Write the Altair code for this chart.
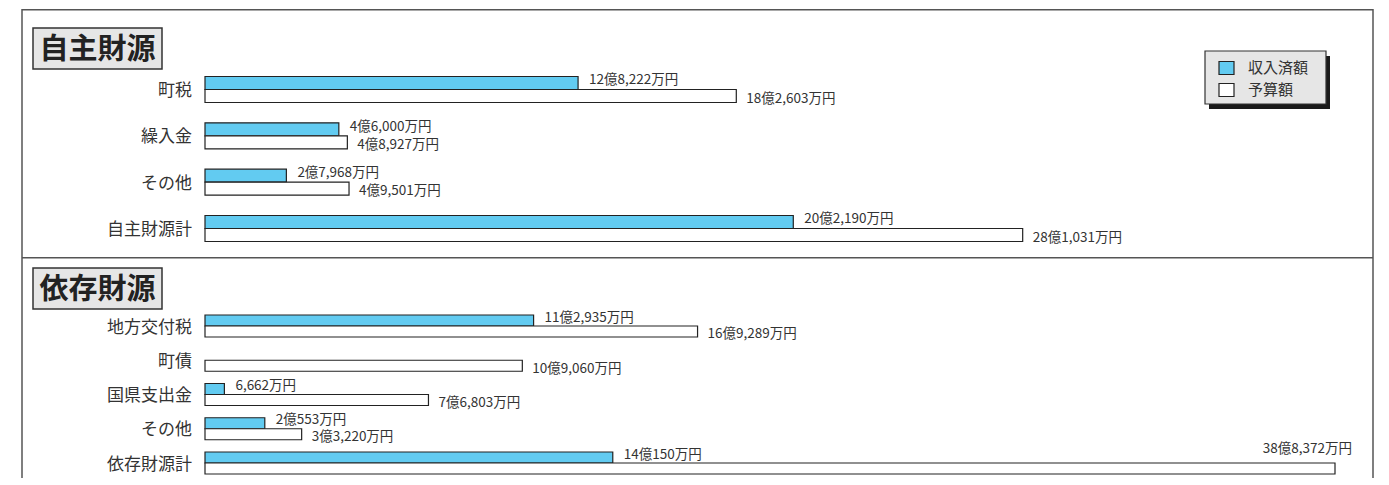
import altair as alt
import pandas as pd

FONT = "Noto Sans CJK JP"

series = ["収入済額", "予算額"]
series_colors = ["#62CBF1", "#FFFFFF"]

own_title = "自主財源"
own_cats = ["町税", "繰入金", "その他", "自主財源計"]
own_received = [128222, 46000, 27968, 202190]
own_budget = [182603, 48927, 49501, 281031]

dep_title = "依存財源"
dep_cats = ["地方交付税", "町債", "国県支出金", "その他", "依存財源計"]
dep_received = [112935, 0, 6662, 20553, 140150]
dep_budget = [169289, 109060, 76803, 33220, 388372]

XMAX = max(own_budget + dep_budget)
W = 1373
VFS = 13.5


def fmt(v):
    oku, man = divmod(v, 10000)
    if oku > 0:
        return f"{oku}億{man:,}万円"
    return f"{man:,}万円"


one = pd.DataFrame({"k": [0]})


def vrule(x, h):
    return alt.Chart(one).mark_rule(color="#555", strokeWidth=1.5).encode(
        x=alt.value(x), y=alt.value(0), y2=alt.value(h))


def hrule(y):
    return alt.Chart(one).mark_rule(color="#555", strokeWidth=1.5).encode(
        x=alt.value(14), x2=alt.value(1365), y=alt.value(y))


def title_box(title, ty):
    box = alt.Chart(one).mark_rect(fill="#e6e6e6", stroke="#333", strokeWidth=1.5).encode(
        x=alt.value(25), x2=alt.value(154), y=alt.value(ty), y2=alt.value(ty + 41))
    txt = alt.Chart(one).mark_text(text=title, font=FONT, fontSize=29, fontWeight="bold",
                                   color="#222", align="center", baseline="middle").encode(
        x=alt.value(89.5), y=alt.value(ty + 21.5))
    return [box, txt]


def panel(cats, rec, bud, title, height, yr, pin, pout, ty, ldy, legend):
    rows = []
    for c, r, b in zip(cats, rec, bud):
        rows.append(dict(cat=c, series=series[0], value=r, label=fmt(r)))
        rows.append(dict(cat=c, series=series[1], value=b, label=fmt(b)))
    df = pd.DataFrame(rows)
    xs = alt.Scale(domain=[0, XMAX], range=[197, 1327])
    ys = alt.Scale(domain=cats, range=yr, paddingInner=pin, paddingOuter=pout)
    yo = alt.Scale(domain=series, paddingInner=0, paddingOuter=0)
    base = alt.Chart(df)
    X = alt.X("value:Q", scale=xs, axis=None)
    Y = alt.Y("cat:N", scale=ys, axis=None)
    YO = alt.YOffset("series:N", scale=yo)
    bars = base.transform_filter("datum.value > 0").mark_bar(
        stroke="#222", strokeWidth=1.2).encode(
        x=X, y=Y, yOffset=YO,
        fill=alt.Fill("series:N", scale=alt.Scale(domain=series, range=series_colors), legend=None))
    lab_rec = base.transform_filter(
        f"datum.value > 0 && datum.value < {XMAX} && datum.series == '{series[0]}'").mark_text(
        align="left", baseline="middle", dx=11, dy=-ldy, fontSize=VFS, color="#333", font=FONT).encode(
        x=X, y=Y, yOffset=YO, text="label:N")
    lab_bud = base.transform_filter(
        f"datum.value > 0 && datum.value < {XMAX} && datum.series == '{series[1]}'").mark_text(
        align="left", baseline="middle", dx=10, dy=ldy, fontSize=VFS, color="#333", font=FONT).encode(
        x=X, y=Y, yOffset=YO, text="label:N")
    maxlab = base.transform_filter(f"datum.value == {XMAX}").mark_text(
        align="right", baseline="middle", dx=17, dy=-19, fontSize=VFS, color="#333", font=FONT).encode(
        x=X, y=Y, yOffset=YO, text="label:N")
    catlab = alt.Chart(pd.DataFrame({"cat": cats})).mark_text(
        align="right", baseline="middle", dy=1.5, fontSize=17, color="#333", font=FONT).encode(
        x=alt.value(184), y=Y, text="cat:N")
    layers = [vrule(14, height), vrule(1365, height), hrule(0.75)]
    layers += title_box(title, ty)
    layers += [bars, lab_rec, lab_bud, maxlab, catlab]
    if legend:
        ldf = pd.DataFrame({"k": [0]})
        layers.append(alt.Chart(ldf).mark_rect(fill="#1a1a1a").encode(
            x=alt.value(1201), x2=alt.value(1322), y=alt.value(47), y2=alt.value(100)))
        layers.append(alt.Chart(ldf).mark_rect(fill="#e6e6e6", stroke="#333", strokeWidth=1.2).encode(
            x=alt.value(1197), x2=alt.value(1318), y=alt.value(42), y2=alt.value(95)))
        for i, (s, c) in enumerate(zip(series, series_colors)):
            yy = 59 + 22 * i
            layers.append(alt.Chart(ldf).mark_rect(fill=c, stroke="#222", strokeWidth=1.2).encode(
                x=alt.value(1211), x2=alt.value(1226), y=alt.value(yy - 6.5), y2=alt.value(yy + 6.5)))
            layers.append(alt.Chart(ldf).mark_text(text=s, align="left", baseline="middle", fontSize=15,
                                                   color="#333", font=FONT).encode(
                x=alt.value(1240), y=alt.value(yy)))
    return alt.layer(*layers).properties(width=W, height=height)


top = panel(own_cats, own_received, own_budget, own_title, 248,
            [57.33, 242.67], 0.439, 0.2195, 19, 2.8, True)
bottom = panel(dep_cats, dep_received, dep_budget, dep_title, 221,
               [51.875, 223.125], 0.358, 0.179, 11, 3.0, False)

chart = alt.vconcat(top, bottom, spacing=0, bounds="flush").resolve_scale(
    x="independent", y="independent", fill="independent", yOffset="independent"
).properties(padding=0).configure_view(stroke=None)

chart.save("out.html", embed_options={"renderer": "svg", "actions": False})
